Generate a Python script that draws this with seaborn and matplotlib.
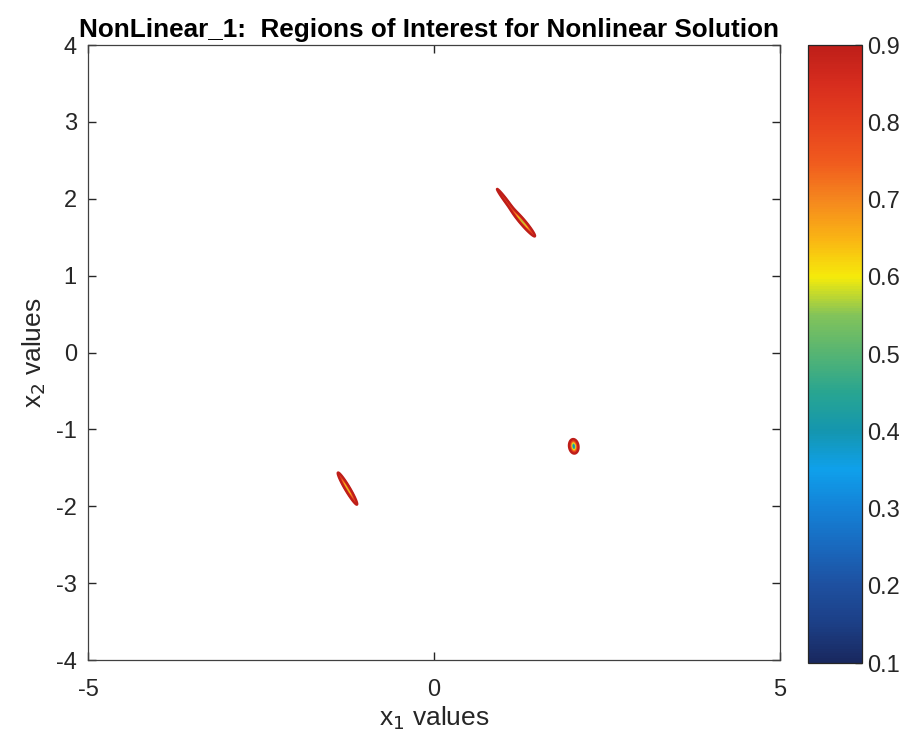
import numpy as np
import matplotlib
matplotlib.use("Agg")
import matplotlib.pyplot as plt
import seaborn as sns

# Regions of interest: elongated wells in the objective surface
well_x = [1.04, 1.28, -1.25, 2.02]
well_y = [1.975, 1.70, -1.77, -1.22]
well_angle = [-50, -46.5, -56.5, 100]     # orientation, degrees
well_len = [0.20, 0.26, 0.25, 0.095]      # half-length of the 0.9 contour
well_wid = [0.020, 0.036, 0.034, 0.068]   # half-width of the 0.9 contour
well_min = [0.66, 0.25, 0.30, 0.22]       # lowest value reached in each well

levels = [0.1, 0.2, 0.3, 0.4, 0.5, 0.6, 0.7, 0.8, 0.9]
x_ticks = [-5, 0, 5]
y_ticks = [-4, -3, -2, -1, 0, 1, 2, 3, 4]
cbar_ticks = [0.1, 0.2, 0.3, 0.4, 0.5, 0.6, 0.7, 0.8, 0.9]

# colour scale from 0.1 (navy) through blue, teal, green, yellow, orange to red (0.9)
scale_colors = ["#19285f", "#1c3f86", "#1e50a0", "#1969be", "#1482d7", "#0fa0eb",
                "#1496af", "#28a591", "#55b473", "#82c35a", "#f5eb0a", "#fab414",
                "#f5871e", "#f05a1e", "#e6411e", "#d72d1e", "#be1e19"]
scale_cmap = sns.blend_palette(scale_colors, as_cmap=True)

sns.set_theme(style="white")
plt.rcParams["font.family"] = ["Liberation Sans", "DejaVu Sans"]
plt.rcParams["axes.unicode_minus"] = False

gx = np.linspace(-5, 5, 2400)
gy = np.linspace(-4, 4, 1900)
X, Y = np.meshgrid(gx, gy)
Z = np.ones_like(X)
for cx, cy, ang, L, W, m in zip(well_x, well_y, well_angle, well_len, well_wid, well_min):
    depth = 1.0 - m
    k = np.sqrt(np.log(depth / 0.1))
    t = np.deg2rad(ang)
    dx, dy = X - cx, Y - cy
    u = dx * np.cos(t) + dy * np.sin(t)
    v = -dx * np.sin(t) + dy * np.cos(t)
    Z -= depth * np.exp(-(u / (L / k)) ** 2 - (v / (W / k)) ** 2)

fig = plt.figure(figsize=(9.04, 7.48), dpi=100)
ax = fig.add_axes([0.0973, 0.1176, 0.7655, 0.8222])
cax = fig.add_axes([0.8938, 0.1136, 0.0597, 0.8262])

cs = ax.contour(X, Y, Z, levels=levels, cmap=scale_cmap, vmin=0.1, vmax=0.9, linewidths=1.7)

text_color = "#262626"
ax.set_xlim(-5, 5)
ax.set_ylim(-4, 4)
ax.set_xticks(x_ticks)
ax.set_yticks(y_ticks)
ax.tick_params(direction="in", length=6, width=1, colors=text_color, labelsize=17,
               top=True, right=True, bottom=True, left=True, pad=8)
ax.tick_params(axis="x", pad=14)
for s in ax.spines.values():
    s.set_color("#404040")
    s.set_linewidth(0.9)
ax.set_xlabel("x$_1$ values", fontsize=19, color=text_color, labelpad=2)
ax.set_ylabel("x$_2$ values", fontsize=19, color=text_color, labelpad=6)
ax.set_title("NonLinear_1:  Regions of Interest for Nonlinear Solution",
             fontsize=18.8, fontweight="bold", color="black", pad=6, x=0.493)

sm = matplotlib.cm.ScalarMappable(norm=matplotlib.colors.Normalize(0.1, 0.9), cmap=scale_cmap)
cb = fig.colorbar(sm, cax=cax)
cb.set_ticks(cbar_ticks)
cb.set_ticklabels([f"{t:.1f}" for t in cbar_ticks])
cb.ax.tick_params(labelsize=17, colors=text_color, direction="in", length=5, width=1, pad=4)
cb.outline.set_edgecolor("#262626")
cb.outline.set_linewidth(0.9)

fig.savefig("out.png", dpi=100, facecolor="white")
